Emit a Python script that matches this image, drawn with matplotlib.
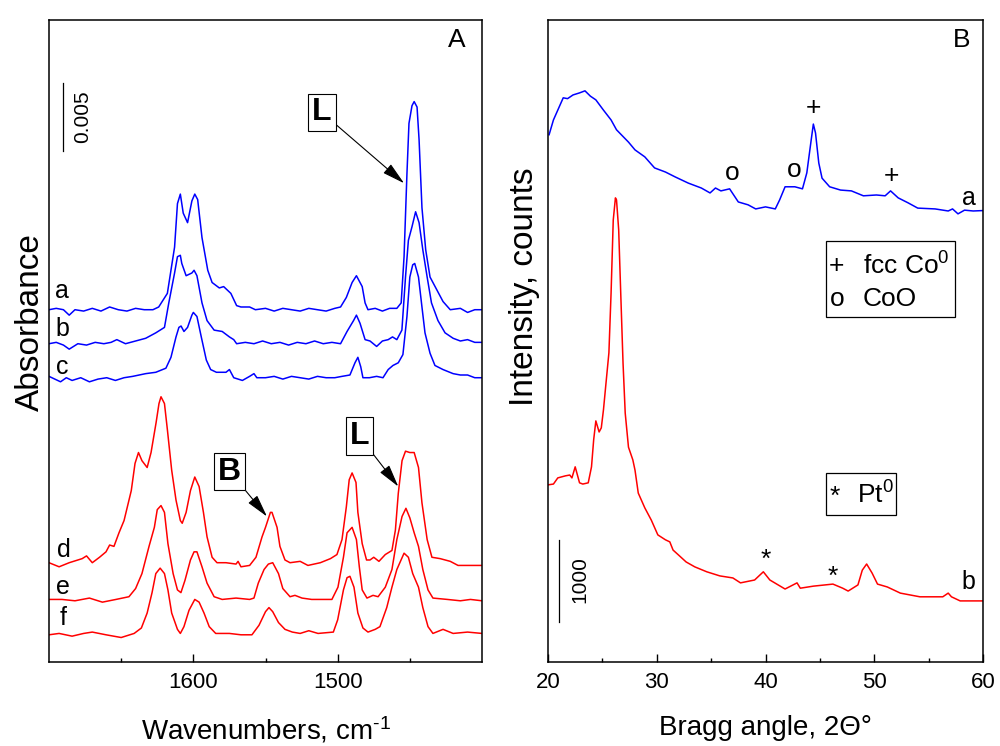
import matplotlib
matplotlib.use("Agg")
import matplotlib.pyplot as plt
from matplotlib.patches import Rectangle

plt.rcParams['font.family'] = ['Liberation Sans', 'DejaVu Sans']
plt.rcParams['mathtext.fontset'] = 'custom'
plt.rcParams['mathtext.rm'] = 'Liberation Sans'
plt.rcParams['mathtext.it'] = 'Liberation Sans:italic'
plt.rcParams['mathtext.bf'] = 'Liberation Sans:bold'

# --- panel A: IR spectra (absorbance in units of 1e-3, stacked) ---
wn_a = [1700, 1695, 1690, 1686, 1682, 1676, 1670, 1664, 1658, 1652, 1646, 1640, 1634, 1628, 1624, 1618,
        1613, 1611, 1609, 1607, 1604, 1601, 1599, 1597, 1594, 1590, 1587, 1582, 1579, 1574, 1570, 1567,
        1561, 1557, 1550, 1544, 1538, 1532, 1526, 1520, 1514, 1508, 1502, 1498, 1494, 1490, 1487, 1483,
        1481, 1479, 1474, 1469, 1464, 1459, 1456, 1454, 1452, 1450.6, 1448.5, 1447, 1445, 1443.6, 1441.6,
        1439, 1436, 1431, 1427, 1422, 1415, 1410, 1405, 1400]
a_mabs = [25.9, 26.0, 25.9, 25.5, 25.9, 25.8, 26.0, 25.8, 26.1, 25.9, 25.8, 26.0, 25.9, 25.9, 26.1, 27.1,
          30.5, 33.7, 34.4, 33.0, 32.3, 33.9, 34.4, 34.0, 31.2, 28.8, 27.9, 27.5, 27.6, 27.1, 26.2, 26.1,
          26.1, 25.9, 26.0, 25.8, 26.0, 25.9, 25.8, 26.0, 25.9, 25.8, 26.0, 26.1, 26.8, 27.9, 28.4, 27.6,
          26.4, 25.9, 26.0, 25.8, 26.0, 26.0, 26.4, 29.8, 35.9, 39.6, 40.9, 41.2, 40.8, 38.4, 33.4,
          30.3, 28.3, 27.3, 26.5, 25.9, 26.0, 25.7, 25.9, 25.9]

wn_b = [1700, 1695, 1690, 1686, 1680, 1674, 1668, 1662, 1657, 1653, 1647, 1640, 1633, 1626, 1620, 1617,
        1613, 1611, 1609, 1608, 1605, 1601, 1599.5, 1597.5, 1594, 1590.5, 1585.6, 1580, 1575, 1572, 1570,
        1564, 1558, 1552, 1546, 1540, 1534, 1528, 1522, 1516, 1510, 1504, 1498, 1493.5, 1489, 1487, 1484.5,
        1481, 1477.6, 1473, 1469, 1465, 1462, 1459, 1455.5, 1453, 1451, 1448.5, 1446, 1443.6, 1441, 1438,
        1435, 1430.5, 1425.6, 1420, 1415, 1410, 1405, 1400]
b_mabs = [23.4, 23.5, 23.3, 23.0, 23.4, 23.3, 23.5, 23.4, 23.5, 23.7, 23.4, 23.6, 23.8, 24.2, 24.6, 26.4,
          28.6, 29.8, 29.9, 29.3, 28.4, 28.6, 28.8, 28.4, 26.4, 25.1, 24.4, 24.3, 23.9, 23.7, 23.4,
          23.5, 23.4, 23.6, 23.4, 23.5, 23.3, 23.5, 23.4, 23.6, 23.4, 23.5, 23.4, 24.3, 25.1, 25.5, 24.9,
          23.7, 23.6, 23.2, 23.6, 23.7, 23.9, 23.7, 24.4, 28.3, 31.0, 32.0, 33.1, 32.3, 30.3, 28.3,
          26.4, 25.1, 24.2, 23.8, 23.6, 23.7, 23.5, 23.5]

wn_c = [1700, 1696, 1692, 1688, 1684, 1678, 1672, 1666, 1660, 1654, 1648, 1642, 1633, 1626, 1619, 1615.5,
        1612, 1610, 1608.5, 1606.5, 1604, 1601, 1600, 1597.5, 1594.5, 1591, 1588, 1584, 1577.4, 1575,
        1572, 1566, 1561, 1558, 1556, 1550, 1544, 1538, 1532, 1526, 1520, 1514, 1508, 1502, 1497, 1491.5,
        1488, 1486, 1484, 1482.5, 1478, 1473, 1468.6, 1465, 1461.7, 1458, 1454.8, 1452, 1450, 1448,
        1446.6, 1444, 1441.6, 1439.5, 1436, 1432.6, 1427, 1420, 1415, 1410, 1405, 1400]
c_mabs = [21.0, 20.8, 20.6, 20.9, 20.7, 20.9, 20.6, 20.8, 20.9, 20.7, 20.9, 21.0, 21.2, 21.3, 21.6, 22.4,
          23.9, 24.6, 24.7, 24.3, 24.6, 25.5, 25.7, 25.4, 23.9, 22.2, 21.5, 21.3, 21.3, 21.5,
          20.9, 20.7, 21.0, 21.2, 20.9, 20.9, 21.0, 20.8, 21.0, 20.9, 20.8, 21.0, 20.9, 20.9, 21.0, 21.1,
          22.0, 22.4, 21.7, 20.9, 20.9, 21.0, 20.9, 21.5, 21.8, 22.0, 22.6, 25.4, 28.3, 29.2,
          29.3, 28.3, 26.1, 24.2, 22.7, 21.8, 21.5, 21.2, 21.1, 21.1, 20.9, 20.9]

wn_d = [1700, 1693, 1686, 1677, 1674, 1670, 1665, 1660.5, 1658, 1655, 1651.5, 1648, 1643, 1640.4, 1638,
        1635.6, 1632, 1629.3, 1625.8, 1623.8, 1622.4, 1620, 1618, 1615, 1612, 1609, 1607.7, 1605, 1602,
        1599, 1596, 1593, 1590.5, 1587, 1583.6, 1577.4, 1570.4, 1569, 1567, 1561, 1556.6, 1552.4, 1550,
        1546.6, 1545.5, 1542, 1540, 1536.5, 1533, 1526, 1520.6, 1512, 1505, 1500.5, 1497, 1494, 1492,
        1490, 1487.3, 1486, 1483, 1480, 1477.6, 1475, 1471.4, 1467, 1462.4, 1460, 1458, 1455.4, 1453,
        1450, 1447, 1444, 1441.6, 1438, 1434.7, 1429, 1422, 1416.6, 1408, 1400]
d_mabs = [7.3, 7.0, 7.3, 7.6, 7.8, 7.3, 7.7, 8.1, 8.6, 8.5, 9.5, 10.4, 12.6, 14.6, 15.4,
          14.8, 14.3, 15.4, 17.6, 19.0, 19.5, 19.0, 17.1, 14.1, 11.9, 10.4, 10.2, 11.0, 12.6,
          13.6, 12.9, 11.0, 9.2, 7.7, 7.3, 7.3, 7.2, 7.4, 7.0, 7.1, 7.7, 9.2, 9.9,
          11.0, 11.0, 9.9, 8.5, 7.5, 7.3, 7.4, 7.1, 7.3, 7.6, 7.9, 9.0, 11.4, 13.4,
          13.9, 13.2, 11.0, 8.7, 7.5, 7.5, 7.7, 7.4, 7.9, 8.2, 9.7, 12.4, 14.8, 15.5,
          15.4, 15.4, 14.3, 11.7, 9.0, 7.7, 7.6, 7.4, 7.1, 7.1, 7.1]

wn_e = [1700, 1691, 1682, 1672, 1663, 1653.6, 1644.6, 1640, 1635.6, 1630.7, 1627, 1625, 1622.4, 1620,
        1617.6, 1614, 1611, 1608.6, 1605.8, 1602, 1599.5, 1597.5, 1594, 1590.5, 1585.6, 1580, 1570.4,
        1561, 1558, 1555, 1551, 1548, 1545, 1541, 1538, 1533, 1529.6, 1524.7, 1518, 1512, 1504, 1499.8,
        1496, 1493.5, 1490, 1487, 1485, 1483, 1479.7, 1475.5, 1472, 1467, 1462.4, 1459, 1455.4, 1452.7,
        1450, 1447, 1444, 1441, 1437.4, 1434, 1424, 1415, 1408, 1400]
e_mabs = [4.6, 4.6, 4.5, 4.7, 4.4, 4.6, 4.8, 5.4, 6.5, 8.5, 9.9, 11.2, 11.5, 11.0,
          8.7, 6.5, 5.3, 5.1, 6.0, 7.5, 8.1, 8.1, 7.0, 5.8, 4.8, 4.6, 4.7,
          4.6, 4.7, 5.8, 6.8, 7.2, 7.3, 6.5, 5.4, 4.8, 4.9, 4.7, 4.6, 4.6, 4.6, 5.5,
          7.7, 9.5, 9.9, 9.0, 7.0, 5.3, 4.7, 4.9, 4.8, 5.5, 6.8, 9.0, 10.7, 11.3,
          10.6, 9.5, 8.5, 6.8, 5.3, 4.7, 4.6, 4.5, 4.6, 4.5]

wn_f = [1700, 1693, 1684, 1676, 1670, 1660.5, 1650, 1641, 1636, 1632, 1628.6, 1626, 1623, 1620, 1617.6,
        1615, 1611, 1609, 1606.5, 1603, 1599, 1596, 1592.6, 1589, 1584.5, 1575, 1567, 1559.4, 1554.5,
        1550, 1547.6, 1545, 1541, 1536.5, 1531.4, 1526, 1520, 1513.6, 1503, 1500, 1496, 1493.5, 1491.5,
        1488.7, 1486, 1482.5, 1479, 1474, 1470.7, 1466, 1462.4, 1459, 1454, 1451, 1448, 1444, 1441,
        1437.4, 1434, 1427, 1420, 1410, 1400]
f_mabs = [2.0, 2.1, 1.9, 2.1, 2.2, 2.0, 1.8, 2.1, 2.5, 3.6, 5.1, 6.5, 6.9, 6.5, 5.3,
          3.6, 2.4, 2.1, 2.6, 3.8, 4.6, 4.4, 3.6, 2.6, 2.1, 2.1, 2.0, 2.0, 2.7,
          3.7, 4.0, 3.7, 2.9, 2.4, 2.2, 2.1, 2.3, 2.1, 2.2, 3.1, 5.3, 6.2, 6.3,
          5.5, 3.6, 2.5, 2.2, 2.4, 2.6, 4.0, 5.5, 6.8, 8.0, 7.7, 6.5, 5.5, 4.0,
          2.6, 2.1, 2.4, 2.1, 2.2, 2.1]

# --- panel B: XRD patterns (counts, stacked) ---
tt_a = [20.1, 20.5, 20.9, 21.4, 21.8, 22.3, 22.9, 23.4, 23.9, 24.4, 25.1, 25.8, 26.3, 27.4, 28.0, 28.9,
        29.8, 30.8, 31.7, 32.9, 34.1, 34.9, 35.4, 35.9, 36.7, 37.5, 38.4, 39.1, 40.0, 40.9, 41.3, 41.8,
        42.7, 43.4, 43.8, 44.2, 44.4, 44.6, 44.9, 45.2, 45.9, 46.9, 47.9, 49.0, 50.2, 51.0, 51.5, 52.2,
        53.1, 54.0, 55.6, 56.8, 57.2, 57.7, 58.3, 59.1, 60.0]
cnt_a = [6430, 6610, 6730, 6880, 6870, 6915, 6940, 6965, 6900, 6855, 6730, 6610, 6490, 6340, 6245, 6160,
         6025, 5975, 5915, 5840, 5780, 5720, 5780, 5745, 5770, 5610, 5575, 5525, 5550, 5525, 5635, 5795,
         5795, 5770, 5965, 6365, 6560, 6450, 6085, 5900, 5795, 5755, 5745, 5685, 5695, 5685, 5745, 5660,
         5600, 5535, 5525, 5500, 5525, 5465, 5510, 5500, 5505]

tt_b = [20.0, 20.5, 20.9, 21.6, 22.0, 22.2, 22.5, 22.9, 23.2, 23.7, 24.0, 24.2, 24.4, 24.7, 24.9, 25.1,
        25.3, 25.6, 25.8, 26.0, 26.2, 26.3, 26.5, 26.7, 26.9, 27.1, 27.4, 27.8, 28.0, 28.3, 28.9, 29.5,
        30.1, 30.8, 31.2, 31.5, 32.0, 32.7, 33.5, 34.6, 35.8, 37.0, 37.7, 39.0, 39.8, 40.4, 41.8, 42.9,
        43.2, 44.4, 46.2, 47.1, 47.6, 48.5, 48.9, 49.3, 49.8, 50.3, 51.2, 52.4, 54.2, 56.3, 56.8, 57.1,
        57.9, 60.0]
cnt_b = [2160, 2170, 2245, 2270, 2280, 2245, 2380, 2185, 2170, 2185, 2380, 2710, 2940, 2805, 2855, 3075,
         3355, 3770, 4500, 5390, 5660, 5635, 5270, 4450, 3645, 3035, 2620, 2465, 2340, 2060, 1880, 1730,
         1550, 1490, 1465, 1365, 1305, 1220, 1160, 1100, 1050, 1025, 965, 1000, 1100, 1000, 890, 965,
         900, 925, 950, 900, 865, 940, 1120, 1195, 1085, 950, 915, 840, 795, 795, 840, 795,
         745, 745]

ir_labels = ['a', 'b', 'c', 'd', 'e', 'f']
xrd_labels = ['a', 'b']

BLUE = '#0000ff'
RED = '#ff0000'

fig = plt.figure(figsize=(10, 7.46), dpi=100)
axA = fig.add_axes([0.049, 0.1126, 0.433, 0.8606])
axB = fig.add_axes([0.548, 0.1126, 0.435, 0.8606])

# ---------- panel A ----------
for wn, ab, col in [(wn_a, a_mabs, BLUE), (wn_b, b_mabs, BLUE), (wn_c, c_mabs, BLUE),
                    (wn_d, d_mabs, RED), (wn_e, e_mabs, RED), (wn_f, f_mabs, RED)]:
    axA.plot(wn, ab, color=col, lw=1.1)

axA.set_xlim(1700, 1400)
axA.set_ylim(0, 47.2)
axA.set_xticks([1600, 1500])
axA.set_xticks([1650, 1550, 1450], minor=True)

label_pos_A = [(1691, 27.3), (1691, 24.5), (1691, 21.7), (1690, 8.2), (1690, 5.5), (1690, 3.2)]
for lab, (x, y) in zip(ir_labels, label_pos_A):
    axA.text(x, y, lab, fontsize=18, ha='center', va='center')

# scale bar 0.005
axA.plot([1690.3, 1690.3], [37.6, 42.6], color='black', lw=0.9)
axA.text(1676.4, 40.1, '0.005', rotation=90, fontsize=15, ha='center', va='center')

arrow = dict(arrowstyle='-|>,head_length=0.7,head_width=0.18', color='black', lw=0.8,
             shrinkA=0, shrinkB=0, mutation_scale=20)
box = dict(boxstyle='square,pad=0.12', fc='white', ec='black', lw=0.8)
axA.annotate('L', xy=(1454, 35.2), xytext=(1510.9, 40.4), fontsize=23, fontweight='bold',
             ha='center', va='center', bbox=box, arrowprops=arrow)
axA.annotate('B', xy=(1549, 10.7), xytext=(1574.7, 14.0), fontsize=23, fontweight='bold',
             ha='center', va='center', bbox=box, arrowprops=arrow)
axA.annotate('L', xy=(1458, 12.9), xytext=(1485, 16.6), fontsize=23, fontweight='bold',
             ha='center', va='center', bbox=box, arrowprops=arrow)

axA.text(0.942, 0.969, 'A', transform=axA.transAxes, fontsize=19, ha='center', va='center')
axA.set_xlabel(r'Wavenumbers, cm$^{\text{-1}}$', fontsize=20, labelpad=16)
axA.set_ylabel('Absorbance', fontsize=24)
axA.yaxis.set_label_coords(-0.008, 0.53)

# ---------- panel B ----------
axB.plot(tt_a, cnt_a, color=BLUE, lw=1.1)
axB.plot(tt_b, cnt_b, color=RED, lw=1.1)
axB.set_xlim(20, 60)
axB.set_ylim(0, 7829)
axB.set_xticks([20, 30, 40, 50, 60])
axB.set_xticks([25, 35, 45, 55], minor=True)

for lab, (x, y) in zip(xrd_labels, [(58.7, 5659), (58.7, 976)]):
    axB.text(x, y, lab, fontsize=18, ha='center', va='center')

for s, x, y in [('o', 36.9, 5963), ('o', 42.6, 6000), ('+', 44.4, 6756), ('+', 51.6, 5927),
                ('*', 40.0, 1244), ('*', 46.2, 1037)]:
    axB.text(x, y, s, fontsize=19, ha='center', va='center')

# scale bar 1000 counts
axB.plot([21.0, 21.0], [488, 1488], color='black', lw=0.9)
axB.text(22.9, 1000, '1000', rotation=90, fontsize=15, ha='center', va='center')

# phase keys
axB.add_patch(Rectangle((0.639, 0.537), 0.297, 0.119, transform=axB.transAxes,
                        fill=False, ec='black', lw=0.9))
axB.text(0.664, 0.617, '+', transform=axB.transAxes, fontsize=19, ha='center', va='center')
axB.text(0.724, 0.617, 'fcc Co$^{0}$', transform=axB.transAxes, fontsize=19, ha='left', va='center')
axB.text(0.664, 0.566, 'o', transform=axB.transAxes, fontsize=19, ha='center', va='center')
axB.text(0.724, 0.566, 'CoO', transform=axB.transAxes, fontsize=19, ha='left', va='center')

axB.add_patch(Rectangle((0.639, 0.229), 0.161, 0.065, transform=axB.transAxes,
                        fill=False, ec='black', lw=0.9))
axB.text(0.66, 0.258, '*', transform=axB.transAxes, fontsize=19, ha='center', va='center')
axB.text(0.710, 0.260, 'Pt$^{0}$', transform=axB.transAxes, fontsize=19, ha='left', va='center')

axB.text(0.952, 0.969, 'B', transform=axB.transAxes, fontsize=19, ha='center', va='center')
axB.set_xlabel('Bragg angle, 2\u0398\u00b0', fontsize=20, labelpad=16)
axB.set_ylabel('Intensity, counts', fontsize=24)
axB.yaxis.set_label_coords(-0.019, 0.584)

for ax in (axA, axB):
    ax.tick_params(axis='x', which='major', direction='in', length=6, width=1, labelsize=16, pad=7)
    ax.tick_params(axis='x', which='minor', direction='in', length=3, width=1)
    ax.tick_params(axis='y', left=False, labelleft=False, which='both')
    for sp in ax.spines.values():
        sp.set_linewidth(1.1)

fig.savefig('out.png', dpi=100)
